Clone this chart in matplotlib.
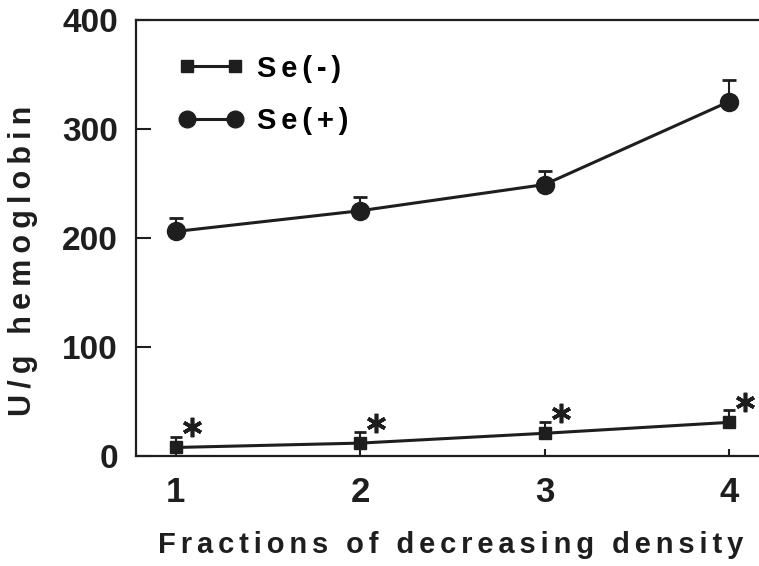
"""Glutathione peroxidase activity across density fractions, Se(-) vs Se(+)."""

import matplotlib
matplotlib.use("Agg")
import matplotlib.pyplot as plt
from matplotlib.lines import Line2D
from matplotlib.transforms import offset_copy

fractions = [1, 2, 3, 4]
se_minus = [8, 12, 21, 31]
se_minus_err = [10, 10, 10, 11]
se_plus = [206, 225, 249, 325]
se_plus_err = [12, 13, 12, 20]

INK = "#1e1e1e"
THIN = "\u2009"
SIXTH = "\u2006"

plt.rcParams["font.family"] = ["Liberation Sans", "DejaVu Sans"]
plt.rcParams["font.weight"] = "bold"


def track(text, gap=THIN):
    # crude letter spacing: the original uses widely tracked type
    return gap.join(text)


fig = plt.figure(figsize=(7.59, 5.66), dpi=100)
ax = fig.add_axes([0.179, 0.194, 0.83, 0.771])

ax.errorbar(fractions, se_minus, yerr=[[0] * 4, se_minus_err], color=INK,
            lw=2.2, marker="s", ms=8, capsize=4.5, capthick=2, elinewidth=1.5,
            zorder=3)
ax.errorbar(fractions, se_plus, yerr=[[0] * 4, se_plus_err], color=INK,
            lw=2.2, marker="o", ms=13, capsize=5, capthick=2, elinewidth=1.5,
            zorder=3)

# significance asterisks up and to the right of each Se(-) point
star_tr = offset_copy(ax.transData, fig=fig, x=11.5, y=14.5, units="points")
ax.plot(fractions, se_minus, linestyle="none", marker=(6, 2, 0), ms=14,
        mew=2.6, color=INK, transform=star_tr, clip_on=False)

ax.set_xlim(0.783, 4.2)
ax.set_ylim(0, 400)
ax.set_xticks(fractions)
ax.set_yticks([0, 100, 200, 300, 400])

for side in ["left", "bottom", "top"]:
    ax.spines[side].set_linewidth(1.6)
    ax.spines[side].set_color(INK)
ax.spines["right"].set_visible(False)

ax.tick_params(axis="y", direction="in", length=11, width=1.5, pad=13,
               labelsize=24, colors=INK)
ax.tick_params(axis="x", direction="in", length=5, width=1.5, pad=14,
               labelsize=25, colors=INK)

ax.set_xlabel(track("Fractions of decreasing density", SIXTH), fontsize=21,
              fontweight="bold", labelpad=16, color=INK)
ax.set_ylabel(track("U/g hemoglobin"), fontsize=22, fontweight="bold",
              color=INK)
ax.yaxis.set_label_coords(-0.156, 0.447)

handles = [
    Line2D([], [], color=INK, lw=2.2, marker="s", ms=8),
    Line2D([], [], color=INK, lw=2.2, marker="o", ms=12),
]
ax.legend(handles, [track("Se(-)", SIXTH), track("Se(+)", SIXTH)],
          loc="upper left", bbox_to_anchor=(0.049, 0.947), frameon=False,
          fontsize=21, handlelength=2.25, labelspacing=0.85,
          handletextpad=0.46, numpoints=2, borderaxespad=0)

fig.savefig("out.png", dpi=100)
